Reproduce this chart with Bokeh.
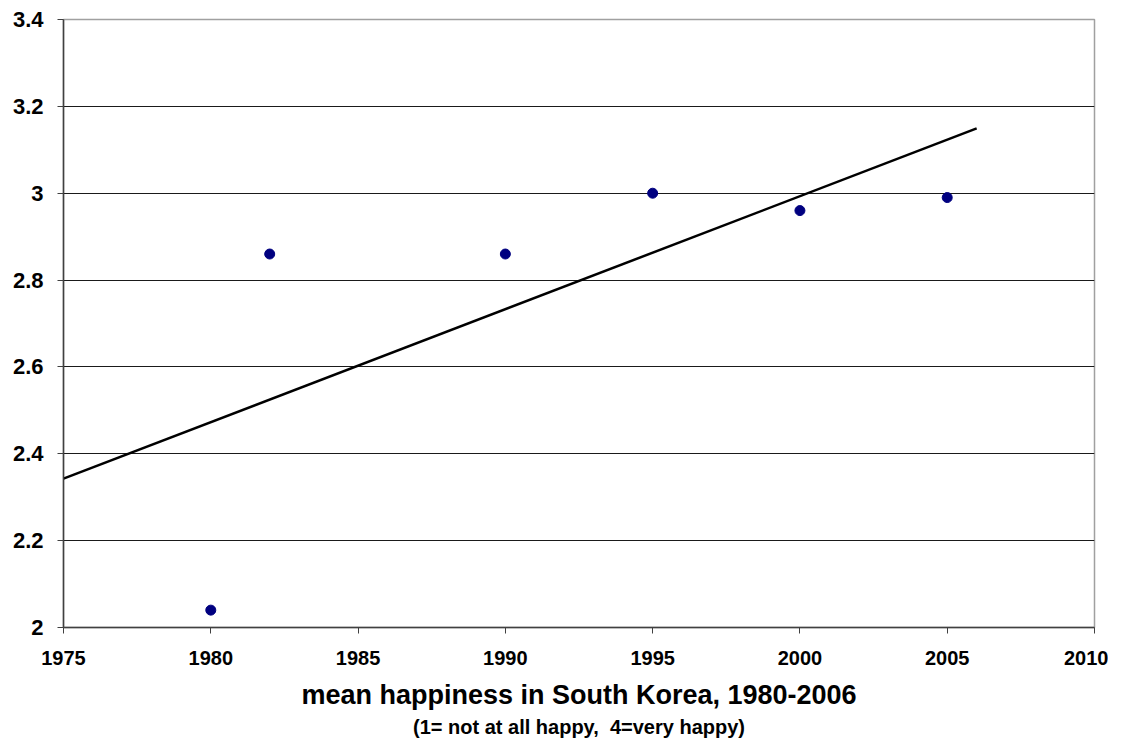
import numpy as np
from bokeh.plotting import figure
from bokeh.models import Range1d, FixedTicker, Title
from bokeh.embed import file_html
from bokeh.resources import INLINE

years = [1980, 1982, 1990, 1995, 2000, 2005]
happiness = [2.04, 2.86, 2.86, 3.00, 2.96, 2.99]
x_ticks = [1975, 1980, 1985, 1990, 1995, 2000, 2005, 2010]
y_ticks = [2.0, 2.2, 2.4, 2.6, 2.8, 3.0, 3.2, 3.4]
y_tick_labels = ["2", "2.2", "2.4", "2.6", "2.8", "3", "3.2", "3.4"]
trend_x = [1975, 2006]
title_main = "mean happiness in South Korea, 1980-2006"
title_sub = "(1= not at all happy,\u00a0 4=very happy)"

FONT = "Liberation Sans"

p = figure(frame_width=1031, frame_height=608, output_backend="svg", toolbar_location=None,
           x_range=Range1d(1975, 2010), y_range=Range1d(2.0, 3.4),
           min_border_left=63, min_border_top=19, min_border_right=14, min_border_bottom=10)
p.outline_line_color = "#a0a0a0"
p.outline_line_width = 1.5
p.background_fill_color = "white"
p.border_fill_color = "white"

p.xgrid.visible = False
p.ygrid.ticker = FixedTicker(ticks=y_ticks)
p.ygrid.grid_line_color = "#1a1a1a"
p.ygrid.grid_line_width = 1

for ax in (p.xaxis[0], p.yaxis[0]):
    ax.axis_line_color = "#404040"
    ax.axis_line_width = 1.5
    ax.major_tick_line_color = "#404040"
    ax.major_tick_out = 6
    ax.major_tick_in = 0
    ax.minor_tick_out = 0
    ax.minor_tick_in = 0
    ax.major_label_text_font = FONT
    ax.major_label_text_font_style = "bold"
    ax.major_label_text_color = "black"

p.xaxis[0].ticker = FixedTicker(ticks=x_ticks)
p.xaxis[0].major_label_text_font_size = "20px"
p.xaxis[0].major_label_standoff = 17
p.yaxis[0].ticker = FixedTicker(ticks=y_ticks)
p.yaxis[0].major_label_overrides = {t: l for t, l in zip(y_ticks, y_tick_labels)}
p.yaxis[0].major_label_text_font_size = "22px"
p.yaxis[0].major_label_standoff = 14

p.xaxis[0].axis_label = title_main
p.xaxis[0].axis_label_text_font = FONT
p.xaxis[0].axis_label_text_font_style = "bold"
p.xaxis[0].axis_label_text_font_size = "27px"
p.xaxis[0].axis_label_text_color = "black"
p.xaxis[0].axis_label_standoff = 12

sub = Title(text=title_sub, align="center", text_font=FONT, text_font_style="bold",
            text_font_size="20px", text_color="black", standoff=3)
p.add_layout(sub, "below")

coef = np.polyfit(years, happiness, 1)
trend_y = list(np.polyval(coef, trend_x))
p.line(trend_x, trend_y, line_color="black", line_width=2.5)

p.scatter(years, happiness, size=10, fill_color="#000080", line_color="#000080")

open("out.html", "w").write(file_html(p, INLINE))
